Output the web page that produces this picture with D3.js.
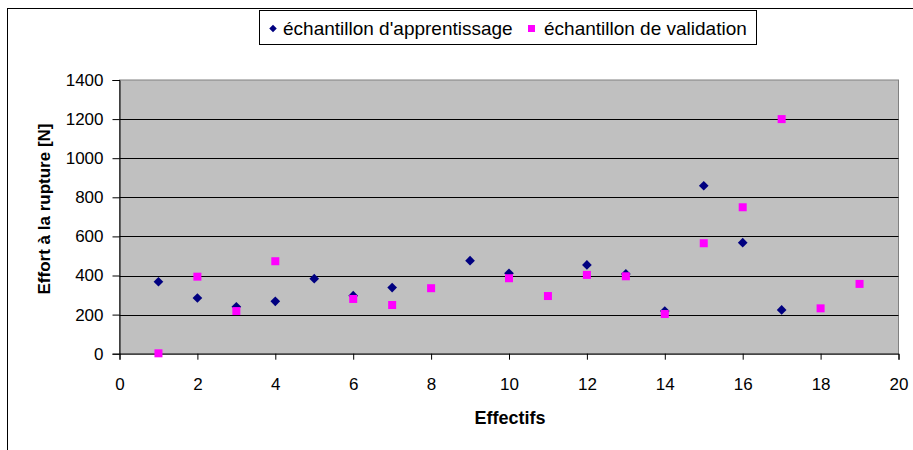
<!DOCTYPE html>
<html><head><meta charset="utf-8">
<script src="https://cdn.jsdelivr.net/npm/d3@7"></script>
<style>body{margin:0;background:#fff}svg{display:block}text{font-family:"Liberation Sans",Arial,sans-serif}</style>
</head><body>
<svg id="c" width="913" height="450"></svg>
<script>
const trainX = [1,2,3,4,5,6,7,9,10,12,13,14,15,16,17];
const trainY = [368,285,240,268,384,297,338,476,411,454,408,218,859,568,224];
const validX = [1,2,3,4,6,7,8,10,11,12,13,14,15,16,17,18,19];
const validY = [2,394,218,473,280,249,335,386,295,403,396,203,565,749,1200,232,357];
const xTicks = [0,2,4,6,8,10,12,14,16,18,20];
const yTicks = [0,200,400,600,800,1000,1200,1400];
const seriesNames = ["échantillon d'apprentissage","échantillon de validation"];
const xTitle = "Effectifs";
const yTitle = "Effort à la rupture [N]";

const svg = d3.select("#c");
const L=119.5, R=898.5, T=80, B=353.7;
const x = d3.scaleLinear().domain([0,20]).range([L,R]);
const y = d3.scaleLinear().domain([0,1400]).range([B,T]);

// outer frame
svg.append("rect").attr("x",7.5).attr("y",8.5).attr("width",920).attr("height",460)
  .attr("fill","none").attr("stroke","#000").attr("stroke-width",1);

// plot area
svg.append("rect").attr("x",L).attr("y",T).attr("width",R-L).attr("height",B-T)
  .attr("fill","#c0c0c0").attr("stroke","#808080").attr("stroke-width",1);

// gridlines
svg.append("g").selectAll("line").data(yTicks.filter(d=>d>0&&d<1400)).join("line")
  .attr("x1",L).attr("x2",R).attr("y1",d=>Math.round(y(d))+0.5).attr("y2",d=>Math.round(y(d))+0.5)
  .attr("stroke","#000").attr("stroke-width",1);

// axes
const fs = "17px";
const gy = svg.append("g").attr("transform",`translate(${L},0)`)
  .call(d3.axisLeft(y).tickValues(yTicks).tickSize(7).tickPadding(9).tickFormat(d3.format("d")));
const gx = svg.append("g").attr("transform",`translate(0,${B})`)
  .call(d3.axisBottom(x).tickValues(xTicks).tickSize(6).tickPadding(18).tickFormat(d3.format("d")));
[gx,gy].forEach(g=>{
  g.selectAll("text").attr("font-size",fs).attr("fill","#000").attr("font-family","'Liberation Sans',Arial,sans-serif");
  g.selectAll("line").attr("stroke","#000");
  g.select(".domain").attr("stroke","#000");
});

// titles
svg.append("text").attr("x",510).attr("y",424).attr("text-anchor","middle")
  .attr("font-weight","bold").attr("font-size","18px").text(xTitle);
svg.append("text").attr("transform",`translate(50,209) rotate(-90)`).attr("text-anchor","middle")
  .attr("font-weight","bold").attr("font-size","17px").text(yTitle);

// markers
const diamond = d3.symbol().type(d3.symbolDiamond2).size(60);
svg.append("g").selectAll("path").data(trainX.map((v,i)=>[v,trainY[i]])).join("path")
  .attr("transform",d=>`translate(${x(d[0])},${y(d[1])})`)
  .attr("d",diamond).attr("fill","#000080");
svg.append("g").selectAll("rect").data(validX.map((v,i)=>[v,validY[i]])).join("rect")
  .attr("x",d=>x(d[0])-4).attr("y",d=>y(d[1])-4).attr("width",8).attr("height",8)
  .attr("fill","#ff00ff");

// legend
const lg = svg.append("g");
lg.append("rect").attr("x",259.5).attr("y",10.5).attr("width",497).attr("height",34)
  .attr("fill","#fff").attr("stroke","#000");
lg.append("path").attr("transform","translate(273,28.5)").attr("d",d3.symbol().type(d3.symbolDiamond2).size(36)).attr("fill","#000080");
lg.append("text").attr("x",283).attr("y",34.5).attr("font-size","19px").text(seriesNames[0]);
lg.append("rect").attr("x",528).attr("y",25).attr("width",7).attr("height",7).attr("fill","#ff00ff");
lg.append("text").attr("x",544).attr("y",34.5).attr("font-size","19px").text(seriesNames[1]);
</script>
</body></html>
